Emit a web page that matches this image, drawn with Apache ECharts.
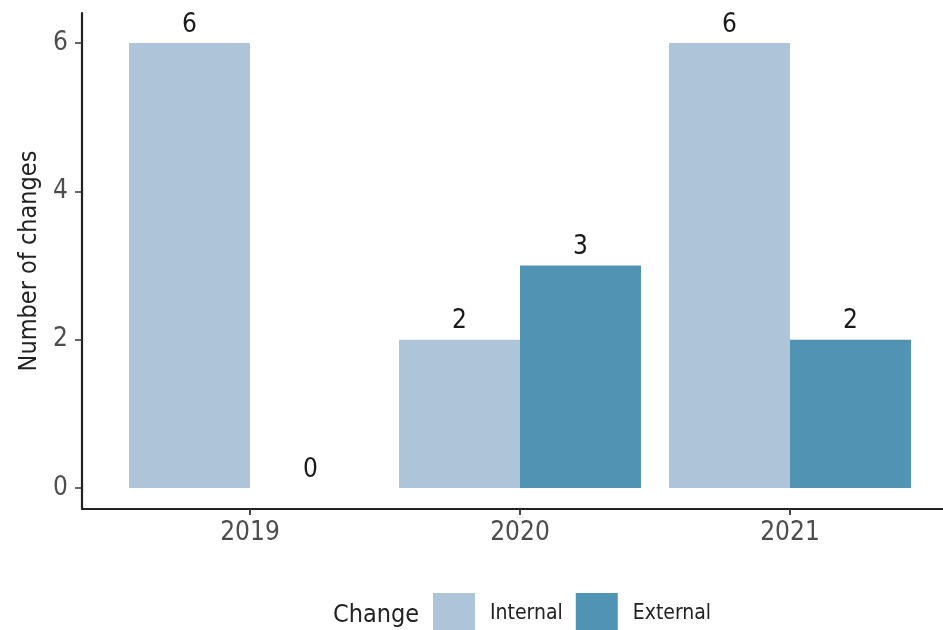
<!DOCTYPE html>
<html><head><meta charset="utf-8">
<script src="https://cdn.jsdelivr.net/npm/echarts@6/dist/echarts.min.js"></script>
<style>html,body{margin:0;padding:0;background:#fff}#c{width:943px;height:630px}</style>
</head><body><div id="c"></div>
<script>
const categories = ['2019', '2020', '2021'];
const internalValues = [6, 2, 6];
const externalValues = [0, 3, 2];
const yTicks = [0, 2, 4, 6];
const seriesNames = ['Internal', 'External'];
const legendTitle = 'Change';
const yTitle = 'Number of changes';

const FONT = '"Liberation Sans Narrow", "DejaVu Sans Condensed", sans-serif';
const cInt = '#aec5d9', cExt = '#5193b3';
const yMin = -0.283, yMax = 6.404;

const chart = echarts.init(document.getElementById('c'), null, {renderer: 'canvas'});
const labelCfg = {show: true, position: 'top', distance: 5, color: '#1a1a1a', fontSize: 26, fontFamily: FONT};
chart.setOption({
  animation: false,
  backgroundColor: '#fff',
  title: {text: legendTitle, left: 328, top: 598, textStyle: {fontFamily: FONT, fontSize: 25, fontWeight: 'normal', color: '#222'}},
  legend: {
    data: seriesNames, left: 428, top: 588, itemWidth: 42, itemHeight: 42, itemGap: 13, icon: 'rect',
    textStyle: {fontFamily: FONT, fontSize: 21, color: '#222', padding: [12, 0, 0, 10]}
  },
  grid: [
    {left: 115, right: 18, top: 13, bottom: 121},
    {left: 82, right: 0, top: 13, bottom: 121}
  ],
  xAxis: [
    {type: 'category', gridIndex: 0, data: categories,
     axisLine: {show: true, onZero: false, lineStyle: {color: '#222', width: 2.2}},
     axisTick: {show: true, alignWithLabel: true, length: 6, lineStyle: {color: '#333', width: 1.8}},
     axisLabel: {fontFamily: FONT, fontSize: 26, color: '#4d4d4d', margin: 11}},
    {type: 'value', gridIndex: 1, min: 0, max: 1,
     axisLine: {show: true, onZero: false, lineStyle: {color: '#222', width: 2.2}},
     axisTick: {show: false}, axisLabel: {show: false}, splitLine: {show: false}}
  ],
  yAxis: [
    {type: 'value', gridIndex: 0, min: yMin, max: yMax, offset: 33,
     name: yTitle, nameLocation: 'middle', nameGap: 31,
     nameTextStyle: {fontFamily: FONT, fontSize: 25, color: '#222'},
     axisLine: {show: true, lineStyle: {color: '#222', width: 2.2}},
     axisTick: {show: true, length: 7, customValues: yTicks, lineStyle: {color: '#333', width: 1.5}},
     axisLabel: {customValues: yTicks, fontFamily: FONT, fontSize: 26, color: '#4d4d4d', margin: 14},
     splitLine: {show: false}},
    {type: 'value', gridIndex: 1, min: 0, max: 1, show: false}
  ],
  series: [
    {name: seriesNames[0], type: 'bar', xAxisIndex: 0, yAxisIndex: 0, data: internalValues,
     barWidth: 121, barGap: '0%', itemStyle: {color: cInt}, label: labelCfg},
    {name: seriesNames[1], type: 'bar', xAxisIndex: 0, yAxisIndex: 0, data: externalValues,
     barWidth: 121, barGap: '0%', itemStyle: {color: cExt}, label: labelCfg}
  ]
});
</script></body></html>
